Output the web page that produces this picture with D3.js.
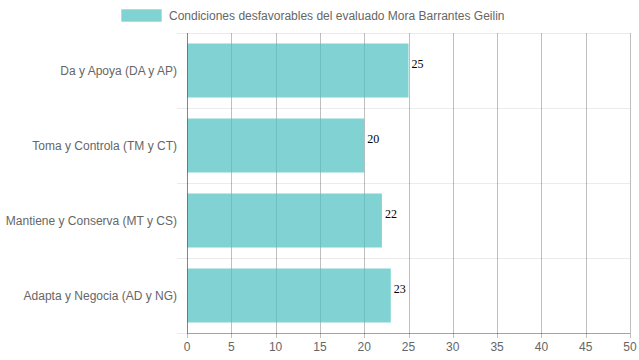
<!DOCTYPE html>
<html>
<head>
<meta charset="utf-8">
<script src="https://cdn.jsdelivr.net/npm/d3@7"></script>
<style>
  body { margin: 0; background: #fff; }
  text { font-family: "Liberation Sans", Arial, sans-serif; }
</style>
</head>
<body>
<div id="chart"></div>
<script>
// data
var categories = ["Da y Apoya (DA y AP)", "Toma y Controla (TM y CT)", "Mantiene y Conserva (MT y CS)", "Adapta y Negocia (AD y NG)"];
var values = [25, 20, 22, 23];
var xTicks = [0, 5, 10, 15, 20, 25, 30, 35, 40, 45, 50];
var seriesName = "Condiciones desfavorables del evaluado Mora Barrantes Geilin";

var svgWidth = 639;
var svgHeight = 360;

var margin = { top: 33, right: 9, bottom: 27, left: 187 };
var width = svgWidth - margin.left - margin.right;
var height = svgHeight - margin.top - margin.bottom;

var svg = d3.select("#chart")
  .append("svg")
  .attr("width", svgWidth)
  .attr("height", svgHeight);

var chartGroup = svg.append("g")
  .attr("transform", `translate(${margin.left}, ${margin.top})`);

var xScale = d3.scaleLinear()
  .domain([0, 50])
  .range([0, width]);

var yScale = d3.scaleBand()
  .domain(categories)
  .range([0, height])
  .padding(0);

var bw = yScale.bandwidth();

// horizontal grid lines (category boundaries)
var bounds = categories.map(c => yScale(c)).concat([height]);
chartGroup.selectAll("line.hgrid")
  .data(bounds)
  .enter()
  .append("line")
  .attr("class", "hgrid")
  .attr("x1", -10)
  .attr("x2", width)
  .attr("y1", d => Math.round(d) + 0.5)
  .attr("y2", d => Math.round(d) + 0.5)
  .attr("stroke", "rgba(0,0,0,0.08)");

// vertical grid lines
chartGroup.selectAll("line.vgrid")
  .data(xTicks)
  .enter()
  .append("line")
  .attr("class", "vgrid")
  .attr("x1", d => Math.round(xScale(d)) + 0.5)
  .attr("x2", d => Math.round(xScale(d)) + 0.5)
  .attr("y1", 0)
  .attr("y2", height + 5)
  .attr("stroke", "rgba(0,0,0,0.25)");

// bars
chartGroup.selectAll("rect.bar")
  .data(values)
  .enter()
  .append("rect")
  .attr("class", "bar")
  .attr("x", 0)
  .attr("y", (d, i) => yScale(categories[i]) + bw * 0.14)
  .attr("width", d => xScale(d))
  .attr("height", bw * 0.72)
  .attr("fill", "rgba(75,192,192,0.7)");

// value labels
chartGroup.selectAll("text.val")
  .data(values)
  .enter()
  .append("text")
  .attr("class", "val")
  .attr("x", d => xScale(d) + 3)
  .attr("y", (d, i) => yScale(categories[i]) + bw * 0.14 + 24)
  .style("font-family", "'Liberation Serif', 'Times New Roman', serif")
  .style("font-size", "12px")
  .attr("fill", "#000")
  .text(d => d);

// axes lines
chartGroup.append("line")
  .attr("x1", 0.5).attr("x2", 0.5)
  .attr("y1", 0).attr("y2", height)
  .attr("stroke", "rgba(0,0,0,0.3)");
chartGroup.append("line")
  .attr("x1", 0).attr("x2", width)
  .attr("y1", height + 0.5).attr("y2", height + 0.5)
  .attr("stroke", "rgba(0,0,0,0.3)");

// x tick labels
chartGroup.selectAll("text.xtick")
  .data(xTicks)
  .enter()
  .append("text")
  .attr("class", "xtick")
  .attr("x", d => xScale(d))
  .attr("y", height + 18)
  .attr("text-anchor", "middle")
  .style("font-size", "12px")
  .attr("fill", "#666")
  .text(d => d);

// y category labels
chartGroup.selectAll("text.ytick")
  .data(categories)
  .enter()
  .append("text")
  .attr("class", "ytick")
  .attr("x", -10)
  .attr("y", d => yScale(d) + bw / 2)
  .attr("dy", "0.35em")
  .attr("text-anchor", "end")
  .style("font-size", "12px")
  .attr("fill", "#666")
  .text(d => d);

// legend
var legend = svg.append("g");
legend.append("rect")
  .attr("x", 121.5)
  .attr("y", 9.5)
  .attr("width", 40)
  .attr("height", 12)
  .attr("fill", "rgba(75,192,192,0.7)")
  .attr("stroke", "rgba(0,0,0,0.06)");
legend.append("text")
  .attr("x", 169)
  .attr("y", 15.5)
  .attr("dy", "0.35em")
  .style("font-size", "12px")
  .attr("fill", "#666")
  .text(seriesName);
</script>
</body>
</html>
